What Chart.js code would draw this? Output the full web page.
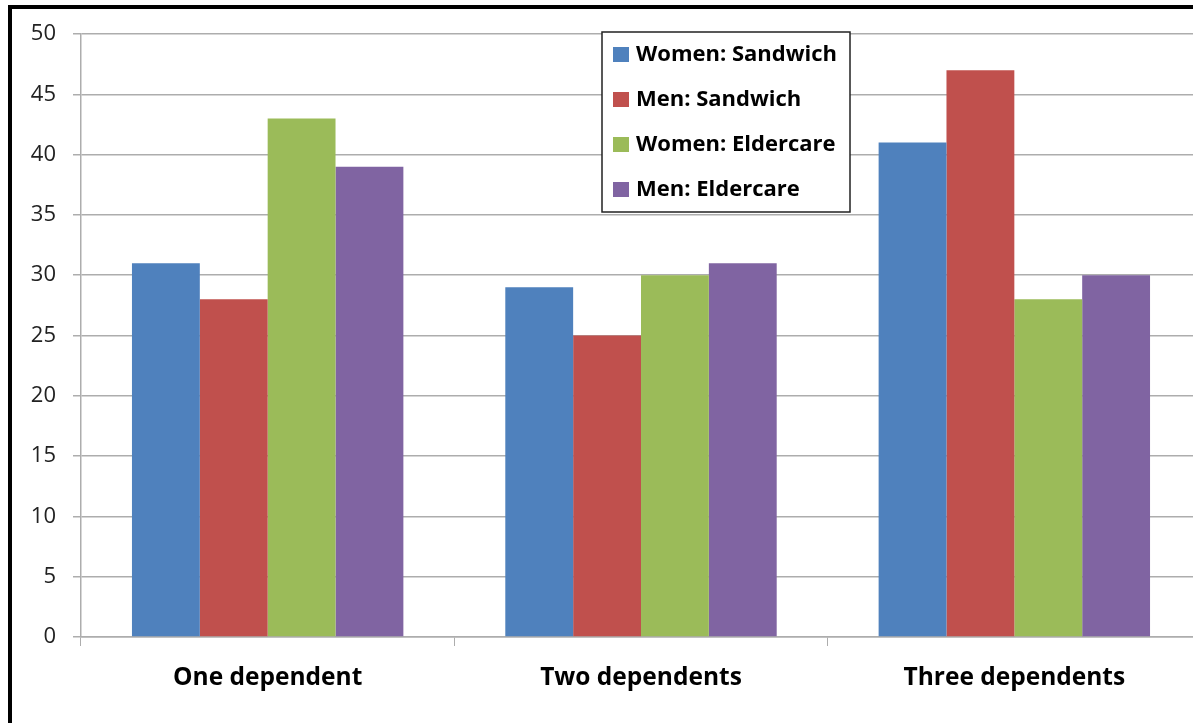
<!DOCTYPE html>
<html>
<head>
<meta charset="utf-8">
<title>Dependents</title>
<script src="https://cdn.jsdelivr.net/npm/chart.js@4.4.1/dist/chart.umd.min.js"></script>
<style>
  html, body { margin: 0; padding: 0; background: #fff; overflow: hidden; }
  #wrap { position: relative; width: 1193px; height: 723px; overflow: hidden; }
  #box { position: absolute; left: 0; top: 0; width: 1210px; height: 723px; }
  #frame { position: absolute; left: 8px; top: 5px; width: 1300px; height: 800px;
           border-left: 4px solid #000; border-top: 4px solid #000; pointer-events: none; }
</style>
</head>
<body>
<div id="wrap">
  <div id="box"><canvas id="chart"></canvas></div>
  <div id="frame"></div>
</div>
<script>
// categorias e séries
const categories = ['One dependent', 'Two dependents', 'Three dependents'];
const seriesNames = ['Women: Sandwich', 'Men: Sandwich', 'Women: Eldercare', 'Men: Eldercare'];
const seriesColors = ['#4F81BD', '#C0504D', '#9BBB59', '#8064A2'];
const womenSandwich = [31, 29, 41];
const menSandwich = [28, 25, 47];
const womenEldercare = [43, 30, 28];
const menEldercare = [39, 31, 30];
const yTicks = [0, 5, 10, 15, 20, 25, 30, 35, 40, 45, 50];

const seriesValues = [womenSandwich, menSandwich, womenEldercare, menEldercare];
const FONT = '"Open Sans", "DejaVu Sans", sans-serif';
const GRID = '#adadad';

// legenda em caixa desenhada por cima da área do gráfico
const boxLegend = {
  id: 'boxLegend',
  afterDraw(chart) {
    const c = chart.ctx;
    const x = 602, y = 32, w = 248, h = 180;
    c.save();
    c.fillStyle = '#fff';
    c.fillRect(x, y, w, h);
    c.strokeStyle = '#222';
    c.lineWidth = 1.5;
    c.strokeRect(x, y, w, h);
    c.font = 'bold 22px ' + FONT;
    c.textBaseline = 'middle';
    chart.data.datasets.forEach((ds, i) => {
      const cy = y + 23 + i * 45;
      c.fillStyle = ds.backgroundColor;
      c.fillRect(x + 11, cy - 8, 16, 15);
      c.fillStyle = '#000';
      c.fillText(ds.label, x + 34, cy);
    });
    c.restore();
  }
};

const datasets = seriesNames.map((name, i) => ({
  label: name,
  data: seriesValues[i],
  backgroundColor: seriesColors[i],
  borderWidth: 0,
  categoryPercentage: 0.727,
  barPercentage: 1
}));

new Chart(document.getElementById('chart'), {
  type: 'bar',
  data: { labels: categories, datasets },
  options: {
    responsive: true,
    maintainAspectRatio: false,
    animation: false,
    layout: { padding: { left: 0, top: 34, right: 9, bottom: 0 } },
    plugins: { legend: { display: false }, tooltip: { enabled: false } },
    scales: {
      x: {
        afterFit: s => { s.height = 86; },
        grid: { offset: true, drawOnChartArea: false, drawTicks: true, tickLength: 9, color: GRID },
        border: { color: GRID, width: 1.5 },
        ticks: { color: '#000', padding: 17, font: { family: FONT, size: 24.5, weight: 'bold' } }
      },
      y: {
        min: 0,
        max: 50,
        afterFit: s => { s.width = 81; },
        afterBuildTicks: s => { s.ticks = yTicks.map(v => ({ value: v })); },
        grid: { color: GRID, lineWidth: 1.5, tickLength: 8 },
        border: { color: GRID, width: 1.5 },
        ticks: { color: '#222', padding: 17, font: { family: FONT, size: 22 } }
      }
    }
  },
  plugins: [boxLegend]
});
</script>
</body>
</html>
